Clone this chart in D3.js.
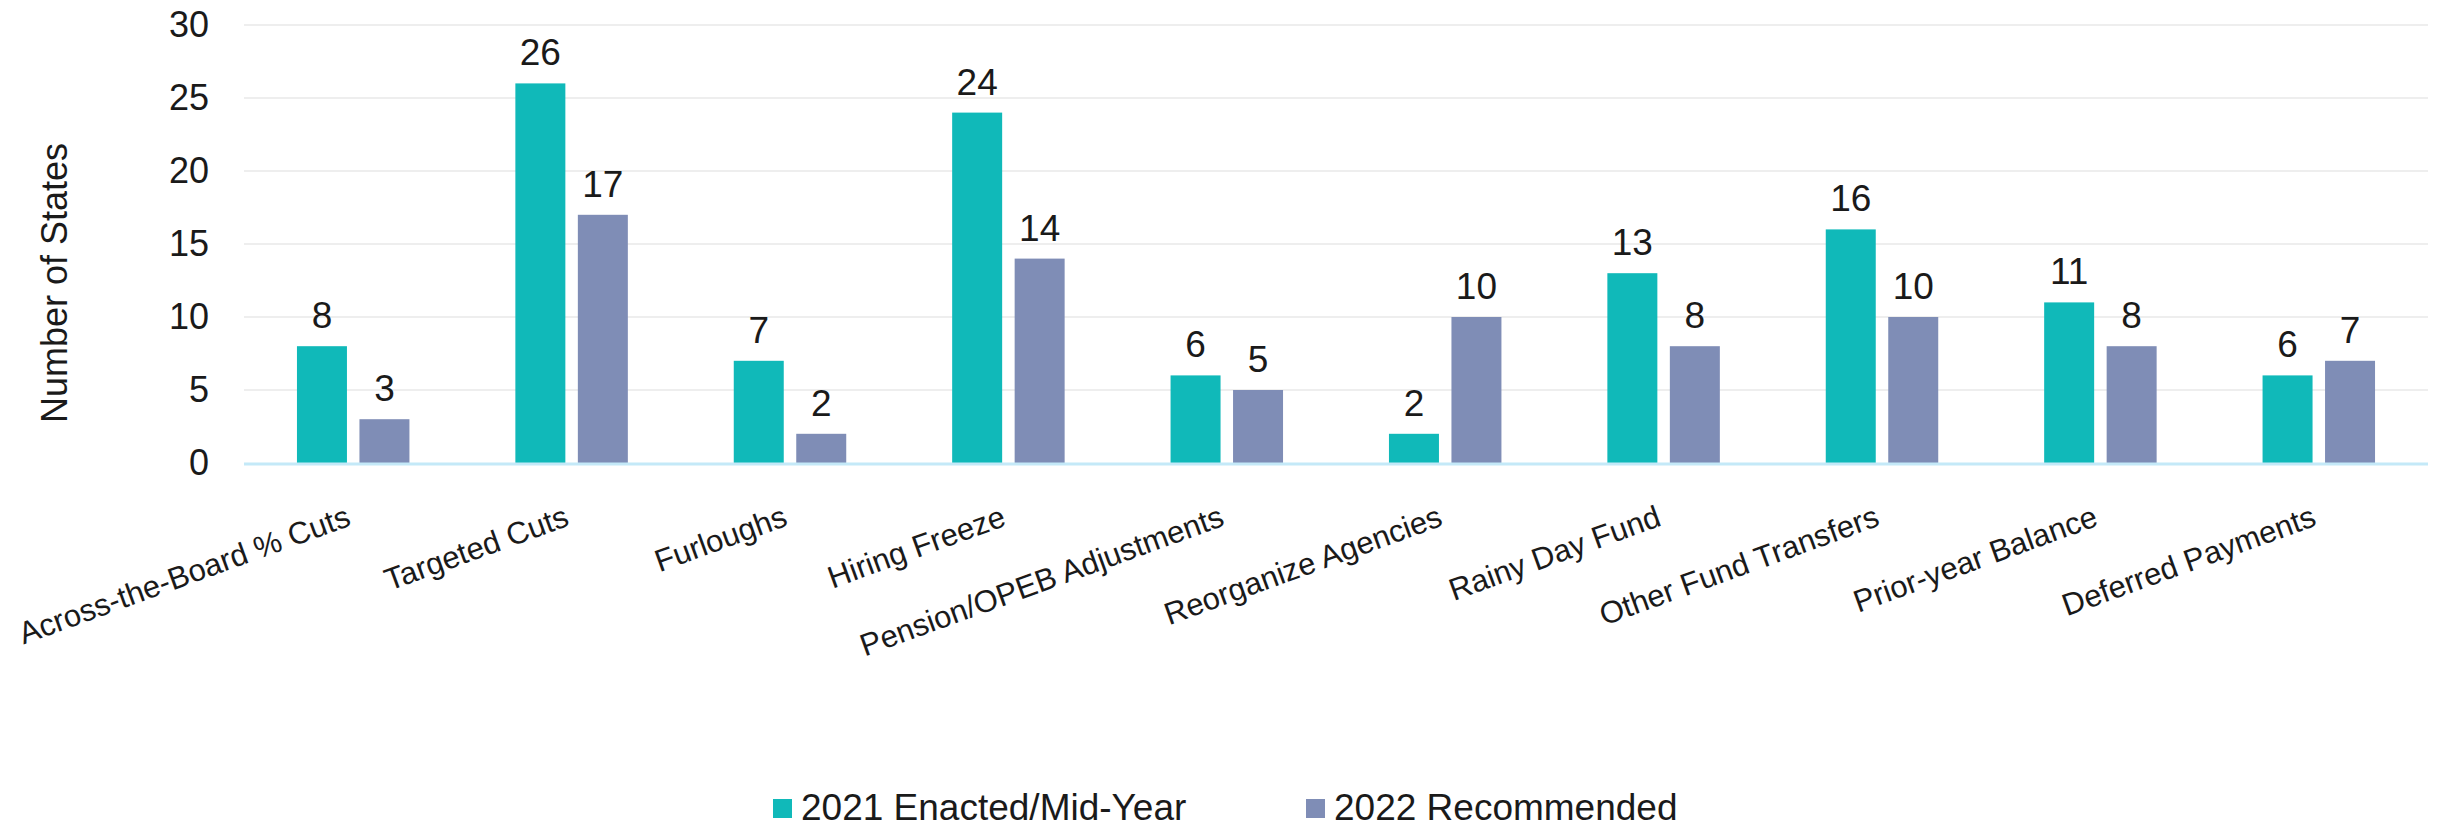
<!DOCTYPE html>
<html>
<head>
<meta charset="utf-8">
<script src="https://cdn.jsdelivr.net/npm/d3@7"></script>
<style>
  body { margin: 0; background: #fff; }
  svg text { font-family: Arial, "Liberation Sans", sans-serif; fill: #1a1a1a; }
</style>
</head>
<body>
<div id="chart"></div>
<script>
// chart data
let categories = ['Across-the-Board % Cuts', 'Targeted Cuts', 'Furloughs', 'Hiring Freeze',
    'Pension/OPEB Adjustments', 'Reorganize Agencies', 'Rainy Day Fund', 'Other Fund Transfers',
    'Prior-year Balance', 'Deferred Payments'];
let seriesNames = ['2021 Enacted/Mid-Year', '2022 Recommended'];
let values2021 = [8, 26, 7, 24, 6, 2, 13, 16, 11, 6];
let values2022 = [3, 17, 2, 14, 5, 10, 8, 10, 8, 7];
let yTicks = [0, 5, 10, 15, 20, 25, 30];

let colors = ['#10b9b9', '#7f8db6'];

let width = 2445,
    height = 828;
let margin = {top: 25, right: 17, bottom: 365, left: 244};

let svg = d3.select('#chart')
    .append('svg')
    .attr('width', width)
    .attr('height', height);

let x0 = d3.scaleBand()
    .domain(categories)
    .range([margin.left, width - margin.right]);

// pair of bars takes about half the band, centred
let pairFrac = 0.515;
let x1 = d3.scaleBand()
    .domain(seriesNames)
    .range([0, x0.bandwidth() * pairFrac])
    .paddingInner(0.2);

let y = d3.scaleLinear()
    .domain([0, 30])
    .range([height - margin.bottom, margin.top]);

// gridlines
svg.append('g')
    .selectAll('line')
    .data(yTicks.filter(d => d > 0))
    .enter()
    .append('line')
    .attr('x1', margin.left)
    .attr('x2', width - margin.right)
    .attr('y1', d => y(d))
    .attr('y2', d => y(d))
    .attr('stroke', '#eeeeee')
    .attr('stroke-width', 2);

// y axis labels
let yAxis = d3.axisLeft(y).tickValues(yTicks).tickSize(0).tickPadding(35);
svg.append('g')
    .attr('transform', `translate(${margin.left},0)`)
    .call(yAxis)
    .call(g => g.select('.domain').remove())
    .selectAll('text')
    .style('font-size', '36px')
    .attr('fill', '#1a1a1a');

svg.append('text')
    .attr('transform', `translate(54,283) rotate(-90)`)
    .attr('text-anchor', 'middle')
    .attr('dy', '0.35em')
    .style('font-size', '36px')
    .text('Number of States');

// bars
let data = categories.map((c, i) => ({cat: c, vals: [values2021[i], values2022[i]]}));

let groups = svg.append('g')
    .selectAll('g')
    .data(data)
    .enter()
    .append('g')
    .attr('transform', d => `translate(${x0(d.cat) + x0.bandwidth() * (1 - pairFrac) / 2},0)`);

groups.selectAll('rect')
    .data(d => d.vals.map((v, j) => ({name: seriesNames[j], v: v, j: j})))
    .enter()
    .append('rect')
    .attr('x', d => x1(d.name))
    .attr('width', x1.bandwidth())
    .attr('y', d => y(d.v))
    .attr('height', d => y(0) - y(d.v))
    .attr('fill', d => colors[d.j]);

groups.selectAll('.val')
    .data(d => d.vals.map((v, j) => ({name: seriesNames[j], v: v, j: j})))
    .enter()
    .append('text')
    .attr('class', 'val')
    .attr('x', d => x1(d.name) + x1.bandwidth() / 2)
    .attr('y', d => y(d.v) - 18)
    .attr('text-anchor', 'middle')
    .style('font-size', '37px')
    .text(d => d.v);

// x axis line
svg.append('line')
    .attr('x1', margin.left)
    .attr('x2', width - margin.right)
    .attr('y1', y(0) + 1)
    .attr('y2', y(0) + 1)
    .attr('stroke', '#c4e9f8')
    .attr('stroke-width', 3);

// category labels
svg.append('g')
    .selectAll('text')
    .data(categories)
    .enter()
    .append('text')
    .attr('text-anchor', 'end')
    .attr('transform', d => `translate(${x0(d) + x0.bandwidth() / 2 - 1},${y(0) + 62}) rotate(-20)`)
    .style('font-size', '31px')
    .text(d => d);

// legend
let legend = svg.append('g')
    .selectAll('g')
    .data(seriesNames)
    .enter()
    .append('g')
    .attr('transform', (d, i) => `translate(${[773, 1306][i]},799)`);

legend.append('rect')
    .attr('width', 19)
    .attr('height', 19)
    .attr('fill', (d, i) => colors[i]);

legend.append('text')
    .attr('x', 28)
    .attr('y', 21)
    .style('font-size', '37px')
    .text(d => d);
</script>
</body>
</html>
